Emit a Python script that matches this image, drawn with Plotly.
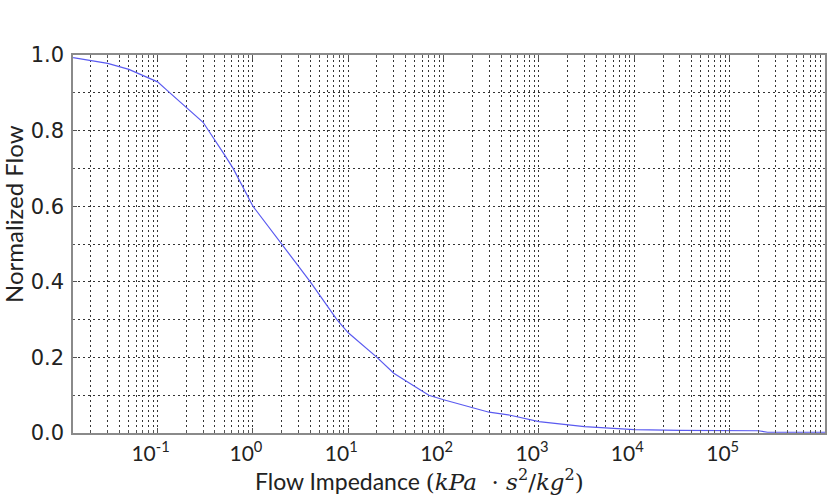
import plotly.graph_objects as go

# Data
impedance = [0.013, 0.02, 0.03, 0.05, 0.1, 0.125, 0.3, 0.5, 0.62, 1.0, 2.0, 4.0, 7.6, 10.0,
             20.0, 30.0, 40.0, 70.0, 100.0, 300.0, 500.0, 1000.0, 3000.0, 1e4, 3e4,
             1e5, 2e5, 2.5e5, 1e6]
norm_flow = [0.993, 0.985, 0.978, 0.962, 0.929, 0.907, 0.822, 0.737, 0.700, 0.600, 0.500,
             0.400, 0.300, 0.265, 0.200, 0.158, 0.138, 0.100, 0.088, 0.055, 0.047, 0.030,
             0.017, 0.009, 0.007, 0.006, 0.006, 0.002, 0.002]

decades = [-1, 0, 1, 2, 3, 4, 5]
x_tick_vals = [10.0 ** d for d in decades]
x_tick_text = ["10<sup>%d</sup>" % d for d in decades]
x_minor_vals = [m * 10.0 ** d for d in range(-2, 6) for m in range(2, 10)]

y_tick_vals = [0.0, 0.2, 0.4, 0.6, 0.8, 1.0]
y_tick_text = ["0.0", "0.2", "0.4", "0.6", "0.8", "1.0"]

L, R, T, B = 73, 15, 55, 62
W, H = 840, 495
pw, ph = W - L - R, H - T - B
TXT = "#222222"

fig = go.Figure()
fig.add_trace(go.Scatter(x=impedance, y=norm_flow, mode="lines",
                         line=dict(color="#5a5af0", width=1.2), showlegend=False))

grid_common = dict(gridcolor="#333333", gridwidth=1, griddash="2px,3px")

fig.update_xaxes(
    type="log", range=[-1.887, 6.0],
    tickmode="array", tickvals=x_tick_vals, ticktext=x_tick_text,
    showgrid=True, **grid_common,
    ticks="inside", ticklen=5, tickcolor="#555", tickwidth=1,
    showline=True, linecolor="#8a8a8a", linewidth=1.5, mirror="ticks",
    tickfont=dict(family="Lato", size=21, color=TXT),
    ticklabelshift=-7, ticklabelstandoff=1,
    minor=dict(tickmode="array", tickvals=x_minor_vals, showgrid=True,
               ticks="inside", ticklen=3, tickcolor="#555",
               gridcolor="#333333", gridwidth=1, griddash="2px,3px"),
    zeroline=False,
)
fig.update_yaxes(
    range=[0, 1.0],
    tickmode="array", tickvals=y_tick_vals, ticktext=y_tick_text,
    showgrid=True, **grid_common,
    ticks="inside", ticklen=4, tickcolor="#555",
    showline=True, linecolor="#8a8a8a", linewidth=1.5, mirror="ticks",
    tickfont=dict(family="DejaVu Sans", size=21, color=TXT),
    ticklabelstandoff=3,
    minor=dict(dtick=0.1, showgrid=True, ticks="inside", ticklen=2, tickcolor="#555",
               gridcolor="#333333", gridwidth=1, griddash="2px,3px"),
    zeroline=False,
)

xtitle = ('Flow Impedance <span style="font-family:\'DejaVu Serif\'">'
          '(<i>kPa</i>  · <i>s</i><sup>2</sup>/<i>kg</i><sup>2</sup>)</span>')

fig.update_layout(
    width=W, height=H,
    margin=dict(l=L, r=R, t=T, b=B),
    paper_bgcolor="white", plot_bgcolor="white",
    annotations=[
        dict(text=xtitle, xref="paper", yref="paper",
             x=(419 - L) / pw, y=-(480 - (T + ph)) / ph,
             xanchor="center", yanchor="middle", showarrow=False,
             font=dict(family="Lato", size=23, color=TXT)),
        dict(text="Normalized Flow", xref="paper", yref="paper",
             x=(14 - L) / pw, y=(T + ph - 214) / ph, textangle=-90,
             xanchor="center", yanchor="middle", showarrow=False,
             font=dict(family="Lato", size=24, color=TXT)),
    ],
)

fig.write_html("out.html")
